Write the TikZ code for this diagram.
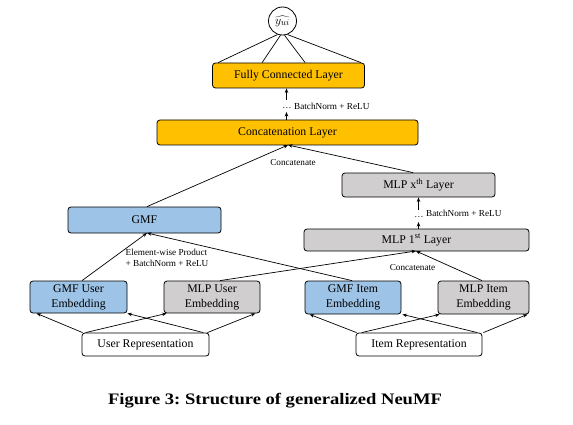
\documentclass[tikz,border=0pt]{standalone}
\usepackage{fontspec}
\setmainfont{Liberation Serif}
\newfontfamily\capfont[FakeStretch=1.16]{Liberation Serif}
\usetikzlibrary{arrows.meta,calc}
\definecolor{gold}{HTML}{FFC000}
\definecolor{lblue}{HTML}{9DC3E6}
\definecolor{lgray}{HTML}{D0CECE}
\frenchspacing
\begin{document}
\begin{tikzpicture}[x=1pt,y=-1pt,
  box/.style={draw, rounded corners=3pt, line width=0.8pt, inner sep=0pt, align=center,
    font=\fontsize{11.8}{15}\selectfont},
  ybox/.style={box, fill=gold},
  bbox/.style={box, fill=lblue},
  gbox/.style={box, fill=lgray},
  wbox/.style={box, fill=white},
  arr/.style={-{Stealth[length=4.5pt,width=3.5pt]}, line width=0.7pt},
  ln/.style={line width=0.7pt},
  lab/.style={font=\fontsize{9.2}{10.5}\selectfont, inner sep=0pt}]
\useasboundingbox (0,0) rectangle (573,425);

% nodes
\node[circle, draw, line width=0.8pt, minimum size=28pt, inner sep=0pt,
  font=\fontsize{12.5}{14}\selectfont] (out) at (282.5,21) {$\widehat{y_{ui}}$};
\node[ybox, minimum width=152pt, minimum height=25pt] (fc) at (288.5,75.5) {Fully Connected Layer};
\node[ybox, minimum width=261pt, minimum height=25pt] (cat) at (287.5,132.5) {Concatenation Layer};
\node[bbox, minimum width=153pt, minimum height=26pt] (gmf) at (144.5,220) {GMF};
\node[gbox, minimum width=153pt, minimum height=24pt] (mlpx) at (418.5,185) {MLP x\textsuperscript{th} Layer};
\node[gbox, minimum width=225pt, minimum height=22pt] (mlp1) at (416.5,240) {MLP 1\textsuperscript{st} Layer};
\node[bbox, minimum width=97pt, minimum height=32pt] (gmfu) at (78.5,297) {GMF User\\Embedding};
\node[gbox, minimum width=96pt, minimum height=32pt] (mlpu) at (212,297) {MLP User\\Embedding};
\node[bbox, minimum width=96pt, minimum height=33pt] (gmfi) at (353,297.5) {GMF Item\\Embedding};
\node[gbox, minimum width=91pt, minimum height=33pt] (mlpi) at (483.5,297.5) {MLP Item\\Embedding};
\node[wbox, minimum width=127pt, minimum height=23pt] (urep) at (145.5,344.5) {User Representation};
\node[wbox, minimum width=126pt, minimum height=23pt] (irep) at (419,344.5) {Item Representation};

% output lines
\draw[ln] (out.250) -- ($(fc.north west)+(6,0)$);
\draw[ln] (out.262) -- ($(fc.north west)+(50,0)$);
\draw[ln] (out.278) -- ($(fc.north west)+(93,0)$);
\draw[ln] (out.290) -- ($(fc.north east)+(-4,0)$);

% batchnorm between concat and fc
\coordinate (fa) at (286.5,100);
\coordinate (fb) at (286.5,112);
\draw[arr] (fa) -- (fc.south -| fa);
\draw[arr] (cat.north -| fb) -- (fb);
\node[lab] (fdots) at (287,108.5) {\dots};
\node[lab, anchor=west] (fbn) at (294,106.5) {BatchNorm + ReLU};

% batchnorm between mlp1 and mlpx
\coordinate (ma) at (418.5,210);
\coordinate (mb) at (418.5,222);
\draw[arr] (ma) -- (mlpx.south -| ma);
\draw[arr] (mlp1.north -| mb) -- (mb);
\node[lab] (mdots) at (419,217.5) {\dots};
\node[lab, anchor=west] (mbn) at (426,213) {BatchNorm + ReLU};

% concatenation into concat layer
\coordinate (catin) at (288,145);
\draw[arr] ($(gmf.north)+(2.5,0)$) -- (catin);
\draw[arr] ($(mlpx.north)+(-5.5,0)$) -- (catin);
\node[lab] (catlab) at (293,162) {Concatenate};

% into GMF
\coordinate (gmfin) at (147,233);
\draw[arr] ($(gmfu.north)+(3.5,0)$) -- (gmfin);
\draw[arr] ($(gmfi.north)+(-1,0)$) -- (gmfin);
\node[lab, align=left] (ewlab) at (167,258) {Element-wise Product\\+ BatchNorm + ReLU};

% into MLP 1st
\coordinate (mlpin) at (416,251);
\draw[arr] ($(mlpu.north)+(8,0)$) -- (mlpin);
\draw[arr] ($(mlpi.north)+(-1.5,0)$) -- (mlpin);
\node[lab] (mlab) at (412.5,267) {Concatenate};

% user representation to embeddings
\draw[arr] ($(urep.north west)+(1,0)$) -- ($(gmfu.south west)+(7,0)$);
\draw[arr] ($(urep.north west)+(4,0)$) -- ($(mlpu.south west)+(3,0)$);
\draw[arr] ($(urep.north east)+(-6,0)$) -- ($(gmfu.south east)+(0,0)$);
\draw[arr] ($(urep.north east)+(-2,0)$) -- ($(mlpu.south east)+(-5,0)$);

% item representation to embeddings
\draw[arr] ($(irep.north west)+(1,0)$) -- ($(gmfi.south west)+(5,0)$);
\draw[arr] ($(irep.north west)+(6,0)$) -- ($(mlpi.south west)+(2,0)$);
\draw[arr] ($(irep.north east)+(-5,0)$) -- ($(gmfi.south east)+(1,0)$);
\draw[arr] ($(irep.north east)+(1,0)$) -- ($(mlpi.south east)+(-2,0)$);

% caption
\node[font=\capfont\bfseries\fontsize{16}{18}\selectfont, anchor=base] (cap) at (275,404) {Figure 3: Structure of generalized NeuMF};
\end{tikzpicture}
\end{document}
